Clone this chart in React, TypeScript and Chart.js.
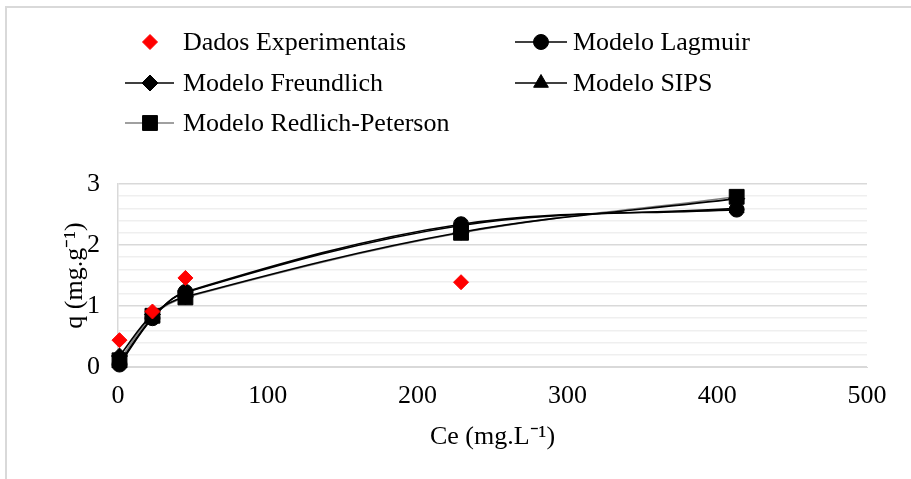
import React, { useEffect, useRef } from 'react';
import { Chart, registerables } from 'chart.js';
import { drawPoint } from 'chart.js/helpers';

Chart.register(...registerables);

const ceModel = [1, 23, 45, 229, 413];
const ceExp = [1, 23, 45, 229];
const qExp = [0.44, 0.91, 1.46, 1.39];
const qLangmuir = [0.04, 0.8, 1.23, 2.34, 2.58];
const qFreundlich = [0.18, 0.86, 1.15, 2.21, 2.76];
const qSips = [0.06, 0.81, 1.22, 2.32, 2.6];
const qRedlich = [0.11, 0.84, 1.14, 2.2, 2.79];
const seriesNames = [
  'Dados Experimentais',
  'Modelo Lagmuir',
  'Modelo Freundlich',
  'Modelo SIPS',
  'Modelo Redlich-Peterson',
];
const xTitle = 'Ce (mg.L\u207B\u00B9)';
const yTitle = 'q (mg.g\u207B\u00B9)';

const FONT = "'Liberation Serif', 'Times New Roman', serif";
const FS = 26;

const toPts = (xs: number[], ys: number[]) => xs.map((x, i) => ({ x, y: ys[i] }));

const legendPlugin = {
  id: 'gridLegend',
  afterDraw(chart: any) {
    const ctx = chart.ctx;
    const ds = chart.data.datasets;
    const cols = [
      { line: [125, 174], mark: 150, text: 183 },
      { line: [515, 567], mark: 541, text: 573 },
    ];
    const rows = [42, 83, 123];
    ctx.save();
    ds.forEach((d: any, i: number) => {
      const c = cols[i % 2];
      const y = rows[Math.floor(i / 2)];
      if (d.showLine !== false) {
        ctx.strokeStyle = d.borderColor;
        ctx.lineWidth = 1.6;
        ctx.beginPath();
        ctx.moveTo(c.line[0], y);
        ctx.lineTo(c.line[1], y);
        ctx.stroke();
      }
      ctx.fillStyle = d.pointBackgroundColor;
      ctx.strokeStyle = d.pointBorderColor;
      ctx.lineWidth = 1;
      drawPoint(ctx, { pointStyle: d.pointStyle, radius: d.pointRadius, rotation: 0, borderWidth: 1 }, c.mark, y);
      ctx.fillStyle = '#000';
      ctx.font = `${FS}px ${FONT}`;
      ctx.textBaseline = 'middle';
      ctx.textAlign = 'left';
      ctx.fillText(d.label, c.text, y + 1);
    });
    ctx.restore();
  },
};

const isInt = (v: number) => Math.abs(v - Math.round(v)) < 1e-6;

export default function App() {
  const ref = useRef<HTMLCanvasElement | null>(null);
  useEffect(() => {
    if (!ref.current) return;
    const modelDs = (label: string, ys: number[], style: string, radius: number, lineColor = '#000') => ({
      label,
      data: toPts(ceModel, ys),
      showLine: true,
      clip: false,
      borderColor: lineColor,
      borderWidth: 1.6,
      tension: 0.35,
      pointStyle: style,
      pointRadius: radius,
      pointBackgroundColor: '#000',
      pointBorderColor: '#000',
      pointBorderWidth: 1,
    });
    const chart = new Chart(ref.current, {
      type: 'scatter',
      data: {
        datasets: [
          {
            label: seriesNames[0],
            data: toPts(ceExp, qExp),
            showLine: false,
            clip: false,
            borderColor: '#ff0000',
            pointStyle: 'rectRot',
            pointRadius: 7.5,
            pointBackgroundColor: '#ff0000',
            pointBorderColor: '#ff0000',
            pointBorderWidth: 1,
          } as any,
          modelDs(seriesNames[1], qLangmuir, 'circle', 7.5),
          modelDs(seriesNames[2], qFreundlich, 'rectRot', 8),
          modelDs(seriesNames[3], qSips, 'triangle', 8.5),
          modelDs(seriesNames[4], qRedlich, 'rect', 10.5, '#808080'),
        ],
      },
      options: {
        responsive: false,
        animation: false,
        layout: { padding: { left: 0, right: 44, top: 184, bottom: 0 } },
        plugins: {
          legend: { display: false },
          tooltip: { enabled: false },
        },
        scales: {
          x: {
            type: 'linear',
            min: 0,
            max: 500,
            afterFit: (s: any) => { s.height = 112; },
            ticks: { stepSize: 100, padding: 14, color: '#000', font: { family: FONT, size: FS }, maxRotation: 0 },
            grid: { display: false, drawTicks: false },
            border: { display: true, color: '#d9d9d9', width: 1 },
            title: { display: true, text: xTitle, color: '#000', font: { family: FONT, size: FS }, padding: { top: 0, bottom: 26 } },
          },
          y: {
            type: 'linear',
            min: 0,
            max: 3,
            afterFit: (s: any) => { s.width = 118; },
            ticks: {
              stepSize: 0.2,
              autoSkip: false,
              padding: 18,
              color: '#000',
              font: { family: FONT, size: FS },
              callback: (v: any) => (isInt(Number(v)) ? String(Math.round(Number(v))) : ''),
            },
            grid: {
              drawTicks: false,
              lineWidth: 1.5,
              color: (c: any) => (c.tick && isInt(c.tick.value) ? '#d9d9d9' : '#efefef'),
            },
            border: { display: true, color: '#d9d9d9', width: 1.5 },
            title: { display: true, text: yTitle, color: '#000', font: { family: FONT, size: FS }, padding: { top: 60, bottom: 0 } },
          },
        },
      },
      plugins: [legendPlugin],
    });
    return () => chart.destroy();
  }, []);
  return (
    <div style={{ position: 'fixed', left: 0, top: 0, width: 911, height: 479, overflow: 'hidden', background: '#fff' }}>
      <div style={{ position: 'absolute', left: 5, top: 6, width: 1200, height: 1200, border: '2px solid #d9d9d9' }} />
      <canvas ref={ref} width={911} height={479} style={{ position: 'absolute', left: 0, top: 0 }} />
    </div>
  );
}
